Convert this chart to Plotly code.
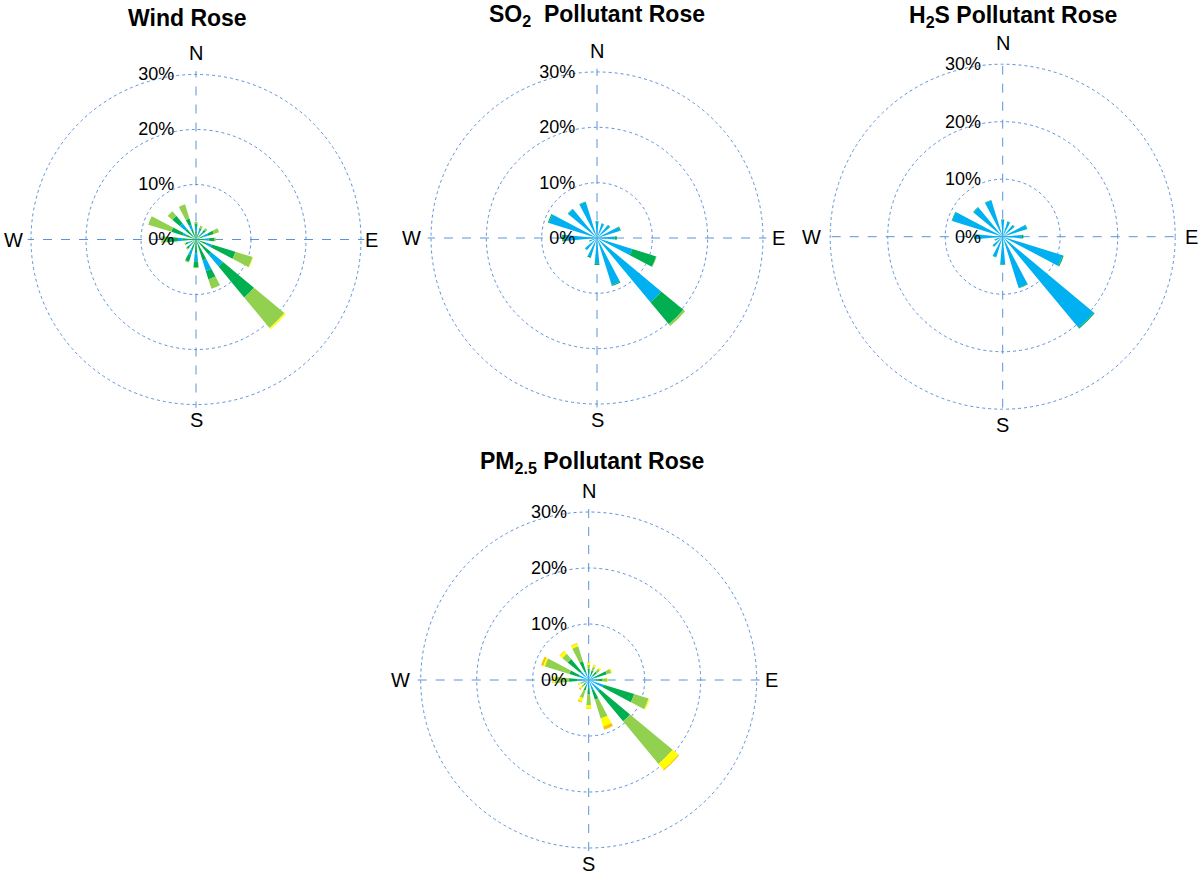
import plotly.graph_objects as go

# ---------------- data ----------------
directions = [0, 22.5, 45, 67.5, 90, 112.5, 135, 157.5,
              180, 202.5, 225, 247.5, 270, 292.5, 315, 337.5]

# Wind rose (stacked classes, inner -> outer)
wind_c0 = [1.5, 1.2, 1.2, 1.5, 1.5, 2.0, 3.6, 4.0, 2.5, 2.0, 1.2, 1.0, 2.5, 2.0, 2.5, 2.0]
wind_c1 = [0.8, 0.5, 0.6, 0.8, 0.8, 1.0, 2.8, 2.0, 1.5, 1.0, 0.5, 0.5, 0.8, 0.5, 1.3, 0.8]
wind_c2 = [0.5, 0.5, 0.5, 1.1, 1.0, 4.5, 7.3, 1.6, 1.0, 1.2, 0.5, 0.5, 2.0, 2.2, 1.8, 1.2]
wind_c3 = [0.4, 0.4, 0.4, 1.0, 0.3, 3.3, 7.2, 1.8, 0.2, 0.2, 0.2, 0.2, 1.0, 4.4, 1.1, 2.7]
wind_c4 = [0, 0, 0, 0, 0, 0.1, 0.3, 0, 0, 0, 0, 0, 0, 0, 0, 0]

# SO2 pollutant rose
so2_c1 = [3.0, 2.7, 3.0, 4.3, 3.2, 6.7, 15.1, 8.9, 4.6, 3.5, 2.8, 1.4, 5.8, 9.1, 6.8, 6.8]
so2_c2 = [0.1, 0.1, 0.1, 0.2, 0.4, 4.5, 5.2, 0.2, 0.3, 0.3, 0.1, 0.1, 0.5, 0.2, 0.1, 0.1]
so2_c3 = [0, 0, 0, 0, 0, 0.1, 0.4, 0, 0, 0, 0, 0, 0, 0, 0, 0]

# H2S pollutant rose
h2s_c1 = [2.9, 2.7, 2.6, 4.4, 3.3, 10.9, 20.6, 9.3, 4.8, 3.7, 2.2, 1.4, 4.8, 9.2, 6.6, 6.6]
h2s_c2 = [0.1, 0.1, 0.1, 0.1, 0.3, 0.2, 0.2, 0.1, 0.1, 0.1, 0.1, 0.1, 0.2, 0.1, 0.1, 0.1]

# PM2.5 pollutant rose
pm_c1 = [1.2, 1.0, 1.0, 1.2, 1.2, 2.8, 2.6, 1.9, 1.5, 1.2, 0.8, 0.7, 2.0, 1.8, 2.0, 1.5]
pm_c2 = [0.8, 0.8, 0.9, 2.2, 1.3, 5.7, 7.0, 1.8, 1.0, 0.8, 0.4, 0.4, 1.5, 1.8, 2.9, 2.0]
pm_c3 = [0.7, 0.7, 0.7, 0.8, 0.8, 2.7, 9.9, 3.5, 2.0, 1.4, 0.5, 0.5, 2.6, 4.6, 1.2, 2.8]
pm_c4 = [0.4, 0.3, 0.3, 0.2, 0.2, 0.2, 1.3, 1.5, 0.6, 0.6, 0.3, 0.3, 0.3, 0.3, 0.6, 0.5]
pm_c5 = [0.1, 0.1, 0.0, 0.0, 0.0, 0.0, 0.2, 0.6, 0.1, 0.2, 0.3, 0.1, 0.1, 0.4, 0.1, 0.1]

radial_ticks = [0, 10, 20, 30]
radial_labels = ["0%", "10%", "20%", "30%"]
compass_vals = [0, 90, 180, 270]
compass_labels = ["N", "E", "S", "W"]

titles = ["<b>Wind Rose</b>",
          "<b>SO<sub>2</sub>  Pollutant Rose</b>",
          "<b>H<sub>2</sub>S Pollutant Rose</b>",
          "<b>PM<sub>2.5</sub> Pollutant Rose</b>"]

# ---------------- styling ----------------
CYAN = "#00B0F0"
DGREEN = "#00B050"
LGREEN = "#92D050"
YELLOW = "#FFFF00"
ORANGE = "#FFC000"
GRID = "#5B93DA"
FONT = "Liberation Sans, Arial, sans-serif"
W, H = 1204, 882
OX, OY = 0, 0          # body margin removed by post_script
BAR_W = 10.5
R_TOP = 30.0
R_MAX = 30.6           # small headroom so the 30% ring is drawn

fig = go.Figure()


def add_stack(series, colors, subplot):
    for vals, col in zip(series, colors):
        fig.add_trace(go.Barpolar(
            r=vals, theta=directions, width=BAR_W,
            marker=dict(color=col, line=dict(width=0)),
            subplot=subplot, showlegend=False, hoverinfo="r+theta"))


add_stack([wind_c0, wind_c1, wind_c2, wind_c3, wind_c4],
          [DGREEN, CYAN, DGREEN, LGREEN, YELLOW], "polar")
add_stack([so2_c1, so2_c2, so2_c3], [CYAN, DGREEN, LGREEN], "polar2")
add_stack([h2s_c1, h2s_c2], [CYAN, DGREEN], "polar3")
add_stack([pm_c1, pm_c2, pm_c3, pm_c4, pm_c5],
          [CYAN, DGREEN, LGREEN, YELLOW, ORANGE], "polar4")

# centers (px, page coords) and radius of the 30% ring (px) of each rose
geo = [(196, 239.5, 165), (597, 238, 166), (1002.7, 236.7, 172.5), (588.7, 680, 168)]


def px(x, y):
    return (x - OX) / W, 1 - (y - OY) / H


def polar_layout(cx, cy, rad):
    full = rad * R_MAX / R_TOP
    x0, y1 = px(cx - full, cy - full)
    x1, y0 = px(cx + full, cy + full)
    return dict(
        domain=dict(x=[x0, x1], y=[y0, y1]),
        bgcolor="white",
        barmode="stack",
        bargap=0,
        radialaxis=dict(range=[0, R_MAX], tickvals=radial_ticks, ticktext=radial_labels,
                        angle=90, side="counterclockwise", showline=False,
                        linecolor=GRID,
                        ticks="outside", ticklen=15, tickcolor="rgba(0,0,0,0)",
                        showgrid=True, gridcolor=GRID, gridwidth=1,
                        griddash="dot", tickangle=90,
                        tickfont=dict(family=FONT, size=18, color="black"),
                        layer="above traces"),
        angularaxis=dict(rotation=90, direction="clockwise",
                         tickmode="array", tickvals=compass_vals,
                         showticklabels=False,
                         showline=False, linecolor=GRID, ticks="", showgrid=True,
                         gridcolor=GRID, gridwidth=1, griddash="dash",
                         layer="below traces"),
    )


layout = dict(width=W, height=H, margin=dict(l=0, r=0, t=0, b=0),
              paper_bgcolor="white", plot_bgcolor="white", showlegend=False)
for i, (cx, cy, rad) in enumerate(geo):
    key = "polar" if i == 0 else f"polar{i + 1}"
    layout[key] = polar_layout(cx, cy, rad)

fig.update_layout(**layout)

# compass labels outside each rose
w_gap = [6, 8, 7, 9]
e_gap = [2, 7, 8, 6]
for (cx, cy, rad), wg, eg in zip(geo, w_gap, e_gap):
    spots = [(cx, cy - rad - 21, "center", "middle"),
             (cx + rad + eg, cy, "left", "middle"),
             (cx, cy + rad + 16, "center", "middle"),
             (cx - rad - wg, cy, "right", "middle")]
    for lab, (x, y, xa, ya) in zip(compass_labels, spots):
        xp, yp = px(x, y)
        fig.add_annotation(text=lab, x=xp, y=yp, xref="paper", yref="paper",
                           showarrow=False, xanchor=xa, yanchor=ya,
                           font=dict(family=FONT, size=20, color="black"))

title_pos = [(187, 18), (597, 15), (1013, 17), (592, 462)]
for t, (x, y) in zip(titles, title_pos):
    xp, yp = px(x, y)
    fig.add_annotation(text=t, x=xp, y=yp, xref="paper", yref="paper",
                       showarrow=False, xanchor="center", yanchor="middle",
                       font=dict(family=FONT, size=23, color="black"))

fig.write_html("out.html", config={"displayModeBar": False},
               post_script="document.body.style.margin='0px';")
